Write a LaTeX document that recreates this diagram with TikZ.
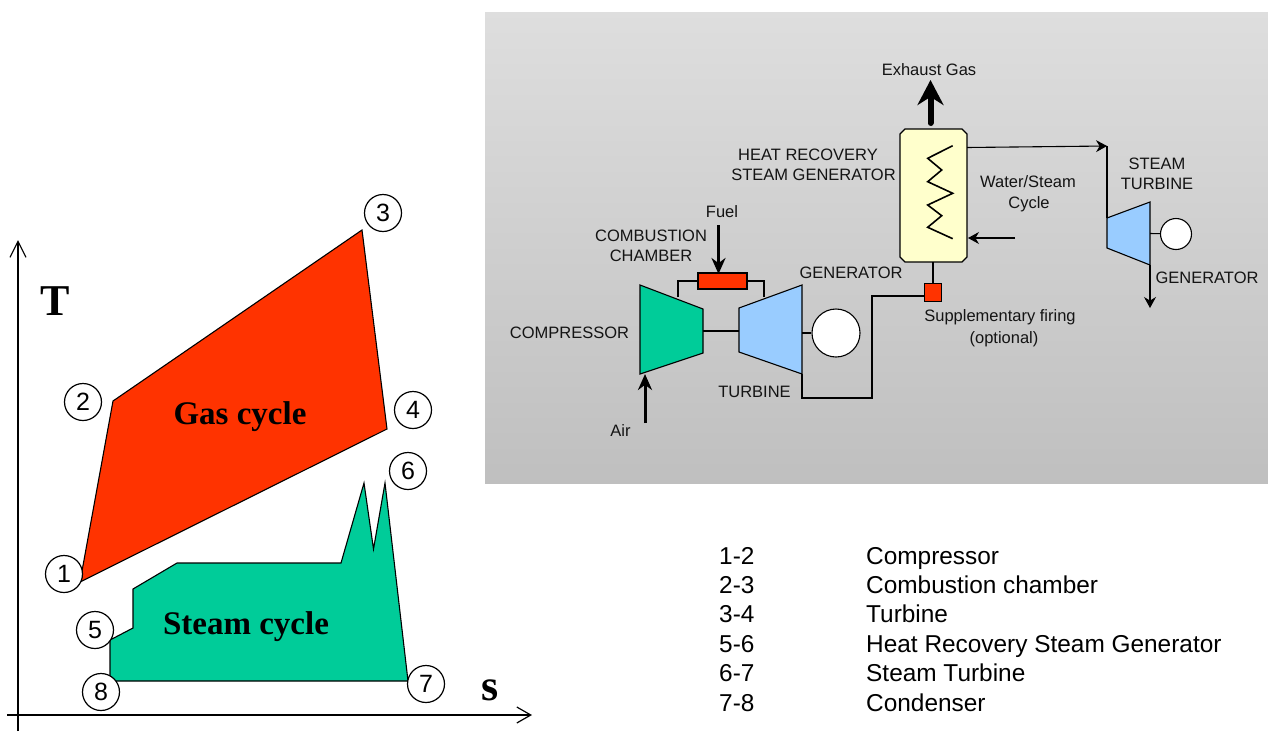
\documentclass[tikz,border=0pt]{standalone}
\usepackage{fontspec}
\setmainfont{Liberation Sans}
\newfontfamily\serifbold[BoldFont={Liberation Serif Bold}]{Liberation Serif}
\usetikzlibrary{arrows.meta}

\definecolor{gasred}{HTML}{FF3300}
\definecolor{steamgreen}{HTML}{00CC99}
\definecolor{turbblue}{HTML}{99CCFF}
\definecolor{hrsgyellow}{HTML}{FFFFCC}

\tikzset{
  lab/.style={font=\fontsize{16.5}{20}\selectfont, text=black!92, inner sep=0pt},
  legendtext/.style={font=\fontsize{24.4}{28}\selectfont, text=black, inner sep=0pt, anchor=base west},
  cyclelab/.style={font=\fontsize{33}{36}\selectfont\serifbold\bfseries, inner sep=0pt},
  axislab/.style={font=\fontsize{44}{50}\selectfont\serifbold\bfseries, inner sep=0pt},
  numcirc/.style={circle, draw, fill=white, line width=1.2pt, minimum size=37pt, inner sep=0pt, font=\fontsize{25}{28}\selectfont},
  part/.style={draw, line width=1.1pt},
  pipe/.style={line width=1.1pt},
  barb/.style={-{Stealth[length=11pt,width=12pt]}, line width=1.1pt},
  bigarrow/.style={-{Stealth[length=16pt,width=14pt]}, line width=3pt},
  gencirc/.style={circle, draw, fill=white, line width=1.1pt, inner sep=0pt}
}

\begin{document}
\begin{tikzpicture}[x=1pt, y=-1pt]
\useasboundingbox (0,0) rectangle (1268,731);

% panel
\shade[top color=black!13, bottom color=black!25] (485,12) rectangle (1268,483);

% T-s diagram
\coordinate (axT) at (18,240);
\coordinate (axTo) at (18,731);
\coordinate (axS) at (532,715);
\coordinate (axSo) at (7,715);
\draw[line width=1.2pt, -{Straight Barb[length=16pt,width=16pt,line width=1.2pt]}] (axTo)--(axT);
\draw[line width=1.2pt, -{Straight Barb[length=14pt,width=16pt,line width=1.2pt]}] (axSo)--(axS);
\node[axislab] (labT) at (55,301) {T};
\node[axislab] (labS) at (490,690) {s};

\draw[part, fill=gasred] (80,582)--(113,401)--(362,230)--(387,429)--cycle;
\draw[part, fill=steamgreen] (110,640)--(133,628)--(133,589)--(177,563)--(341,563)--(364,483)
  --(373.5,549)--(385,483)--(408,681)--(110,681)--cycle;
\node[cyclelab] (gascycle) at (240,417) {Gas cycle};
\node[cyclelab] (steamcycle) at (246,627) {Steam cycle};

\foreach \n/\px/\py in {1/64/574, 2/83/402, 3/383/213, 4/413/410, 5/95/630, 6/408/471, 7/426/684, 8/101/692}
  \node[numcirc] (pt\n) at (\px,\py) {\n};

% gas turbine
\coordinate (compA) at (640,285);
\coordinate (compB) at (640,374);
\coordinate (compC) at (703,353);
\coordinate (compD) at (703,309);
\coordinate (turbA) at (739,308);
\coordinate (turbB) at (802,285);
\coordinate (turbC) at (802,374);
\coordinate (turbD) at (739,352);
\draw[part, fill=steamgreen] (compA)--(compB)--(compC)--(compD)--cycle;
\draw[part, fill=turbblue] (turbA)--(turbB)--(turbC)--(turbD)--cycle;
\draw[pipe] (703,331)--(739,331);

\node[part, fill=gasred, minimum width=49pt, minimum height=16pt, inner sep=0pt] (chamber) at (722.5,281) {};
\draw[pipe] (678,297)|-(chamber.west);
\draw[pipe] (764,297)|-(chamber.east);

\coordinate (fuelIn) at (718.5,225);
\coordinate (airIn) at (645,423);
\draw[bigarrow] (fuelIn)--(718.5,274);
\draw[bigarrow] (airIn)--(645,374);

\node[gencirc, minimum size=48pt] (gen) at (836,333) {};
\draw[pipe] (802,333)--(gen);

% heat recovery
\coordinate (hrsgS) at (933,262);
\draw[part, fill=hrsgyellow] (905,129)--(962,129)--(967,134)--(967,257)--(962,262)--(905,262)--(900,257)--(900,134)--cycle;
\draw[line width=1.6pt] (952.7,145.7)--(927.7,158.3)--(941.7,170)--(927.7,181.7)--(952.7,193.3)
  --(927.7,205)--(941.7,215.7)--(927.7,227.3)--(952.7,238.7);
\node[part, fill=gasred, minimum size=17.5pt, inner sep=0pt] (firing) at (933,292.5) {};
\draw[pipe] (firing.north)--(hrsgS);
\draw[pipe] (turbC)--(802,398)--(872,398)--(872,296)--(firing.west|-872,296);

\coordinate (exhaustTop) at (930.5,80);
\draw[-{Stealth[length=25pt,width=26pt]}, line width=6pt, line cap=round] (930.5,123)--(exhaustTop);

% steam turbine
\coordinate (stA) at (1107,218);
\coordinate (stB) at (1150,202);
\coordinate (stC) at (1150,265);
\coordinate (stD) at (1107,248);
\coordinate (stIn) at (1107,146);
\draw[part, fill=turbblue] (stA)--(stB)--(stC)--(stD)--cycle;
\draw[barb] (967,147.5)--(stIn);
\draw[pipe] (stIn)--(stA);
\coordinate (stOut) at (1150,308);
\draw[barb] (stC)--(stOut);
\node[gencirc, minimum size=31pt] (stgen) at (1176,234) {};
\draw[pipe] (1150,233.5)--(stgen);
\coordinate (retIn) at (1015,238);
\draw[barb] (retIn)--(968,238);

% labels
\node[lab] (lexh) at (929,70) {Exhaust Gas};
\node[lab] (lheat) at (808,155) {HEAT RECOVERY};
\node[lab] (lsteam) at (813.5,175) {STEAM GENERATOR};
\node[lab] (lfuel) at (722,212) {Fuel};
\node[lab] (lcomb) at (651,236) {COMBUSTION};
\node[lab] (lchmb) at (651,256) {CHAMBER};
\node[lab] (lgen) at (851,273) {GENERATOR};
\node[lab] (lcomp) at (569.5,333) {COMPRESSOR};
\node[lab] (lturb) at (754.5,392) {TURBINE};
\node[lab] (lair) at (620.5,431) {Air};
\node[lab] (lwat) at (1028,182) {Water/Steam};
\node[lab] (lcyc) at (1029,204) {Cycle};
\node[lab] (lst) at (1157,164) {STEAM};
\node[lab] (lstt) at (1157,184) {TURBINE};
\node[lab] (lgen2) at (1207,278) {GENERATOR};
\node[lab] (lsup) at (1000,317) {Supplementary firing};
\node[lab] (lopt) at (1004,339) {(optional)};

% legend
\foreach \y/\a/\b in {564/1-2/Compressor, 593/2-3/Combustion chamber, 622/3-4/Turbine,
    652/5-6/Heat Recovery Steam Generator, 681/6-7/Steam Turbine, 711/7-8/Condenser}{
  \node[legendtext] (leg\a) at (719,\y) {\a};
  \node[legendtext] (txt\a) at (866,\y) {\b};
}
\end{tikzpicture}
\end{document}
